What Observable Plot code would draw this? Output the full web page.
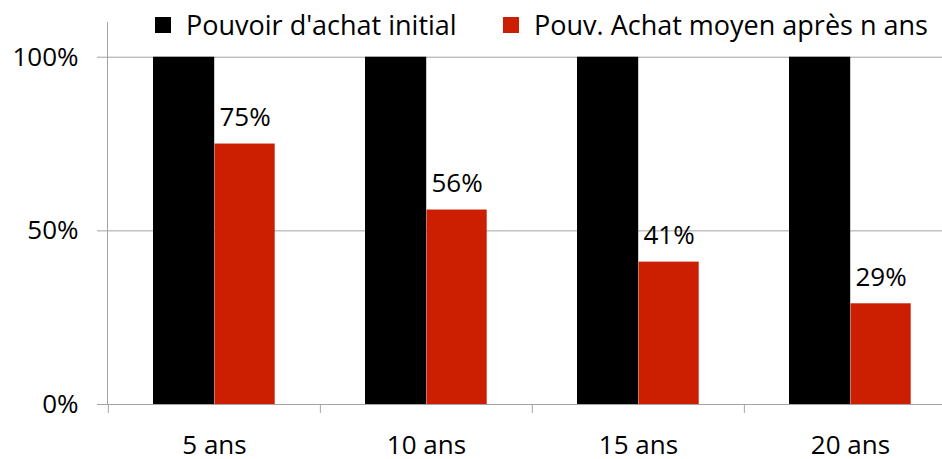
<!DOCTYPE html>
<html>
<head>
<meta charset="utf-8">
<script src="https://cdn.jsdelivr.net/npm/d3@7"></script>
<script src="https://cdn.jsdelivr.net/npm/@observablehq/plot@0.6"></script>
<style>
  html, body { margin: 0; padding: 0; background: #fff; }
  #wrap { position: relative; width: 942px; height: 459px; font-family: "Open Sans", sans-serif; }
  .legend-item { position: absolute; top: 6px; display: flex; align-items: center; font-size: 27px; color: #000; white-space: nowrap; }
  .sw { width: 16px; height: 16px; margin-right: 15px; }
</style>
</head>
<body>
<div id="wrap"></div>
<script>
const categories = ["5 ans", "10 ans", "15 ans", "20 ans"];
const seriesNames = ["Pouvoir d'achat initial", "Pouv. Achat moyen après n ans"];
const initialValues = [100, 100, 100, 100];
const averageValues = [75, 56, 41, 29];
const yTicks = [0, 50, 100];
const colors = ["#000000", "#cc1e00"];

const initialRows = categories.map((c, i) => ({cat: c, value: initialValues[i]}));
const averageRows = categories.map((c, i) => ({cat: c, value: averageValues[i]}));

const gray = "#a3a3a3";
const bandStep = 212.3;

const chart = Plot.plot({
  width: 942,
  height: 459,
  marginLeft: 107,
  marginRight: 0,
  marginTop: 22,
  marginBottom: 55,
  style: {fontFamily: "'Open Sans', sans-serif", background: "white"},
  x: {domain: categories, range: [107, 107 + bandStep * categories.length], padding: 0, axis: null},
  y: {domain: [0, 110], axis: null},
  marks: [
    Plot.gridY(yTicks, {stroke: gray, strokeOpacity: 1}),
    Plot.frame({anchor: "left", stroke: gray}),
    Plot.axisY(yTicks, {tickFormat: d => d + "%", tickSize: 10, tickPadding: 19, stroke: gray, fontSize: 26, fill: "#000", label: null}),
    Plot.axisX(categories, {tickSize: 9, dx: -bandStep / 2, text: null, stroke: gray, label: null}),
    Plot.axisX(categories, {tickSize: 0, tickPadding: 31, fontSize: 26, fill: "#000", label: null}),
    Plot.barY(initialRows, {x: "cat", y: "value", fill: colors[0], insetLeft: 45, insetRight: bandStep - 106.5}),
    Plot.barY(averageRows, {x: "cat", y: "value", fill: colors[1], insetLeft: 106.5, insetRight: 45.3}),
    Plot.text(averageRows, {x: "cat", y: "value", text: d => d.value + "%", dx: 30.6, dy: -26, fontSize: 26, fill: "#000", textAnchor: "middle"})
  ]
});

const wrap = document.getElementById("wrap");
wrap.appendChild(chart);

const legendLefts = [155, 503];
seriesNames.forEach((name, i) => {
  const item = document.createElement("div");
  item.className = "legend-item";
  item.style.left = legendLefts[i] + "px";
  const sw = document.createElement("span");
  sw.className = "sw";
  sw.style.background = colors[i];
  const t = document.createElement("span");
  t.textContent = name;
  item.appendChild(sw);
  item.appendChild(t);
  wrap.appendChild(item);
});
</script>
</body>
</html>
